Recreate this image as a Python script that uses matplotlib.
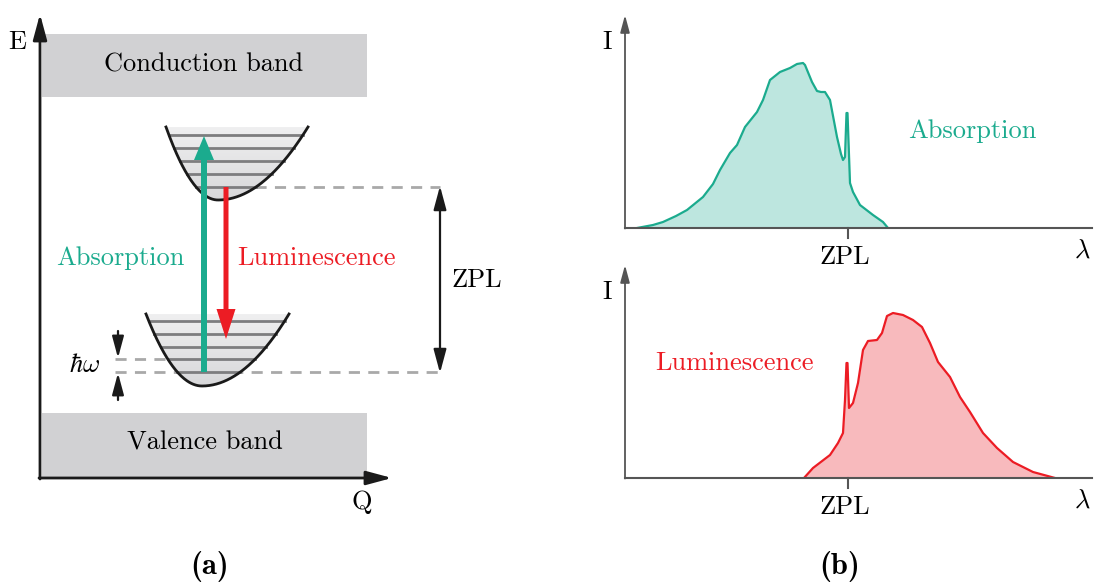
import numpy as np
import matplotlib.pyplot as plt
from matplotlib.patches import Rectangle, Polygon, ArrowStyle
from matplotlib.colors import LinearSegmentedColormap

plt.rcParams['mathtext.fontset'] = 'cm'

# spectra, wavelength relative to ZPL (arb. units), intensity (arb. units)
abs_lam = [-2.11, -1.95, -1.85, -1.72, -1.61, -1.45, -1.35, -1.28, -1.18, -1.11, -1.03,
           -0.91, -0.85, -0.78, -0.68, -0.58, -0.51, -0.45, -0.43, -0.36, -0.31, -0.27,
           -0.23, -0.18, -0.11, -0.07, -0.05, -0.03, -0.015, -0.005, 0.02, 0.05, 0.12,
           0.25, 0.35, 0.40]
abs_int = [0.0, 0.03, 0.06, 0.12, 0.18, 0.31, 0.44, 0.58, 0.75, 0.83, 1.01,
           1.16, 1.28, 1.48, 1.56, 1.60, 1.64, 1.65, 1.63, 1.46, 1.37, 1.36,
           1.36, 1.28, 0.91, 0.74, 0.68, 0.71, 1.15, 1.15, 0.45, 0.36, 0.23,
           0.13, 0.06, 0.0]

lum_lam = [-0.44, -0.35, -0.18, -0.10, -0.05, -0.03, -0.015, -0.005, 0.01, 0.05, 0.10,
           0.15, 0.20, 0.29, 0.34, 0.39, 0.45, 0.55, 0.65, 0.74, 0.82, 0.90, 1.02,
           1.12, 1.22, 1.35, 1.49, 1.65, 1.85, 2.07]
lum_int = [0.0, 0.10, 0.23, 0.35, 0.45, 0.78, 1.15, 1.15, 0.70, 0.75, 0.95,
           1.28, 1.37, 1.38, 1.45, 1.62, 1.65, 1.63, 1.58, 1.51, 1.35, 1.16, 1.01,
           0.81, 0.66, 0.45, 0.30, 0.16, 0.06, 0.0]

TEAL = '#1bab8e'
RED = '#ec1c24'
BAND = '#d1d1d3'
GRAY = '#a9a9a9'

W, H = 1096, 583
fig = plt.figure(figsize=(W / 100, H / 100), dpi=100)
ax = fig.add_axes([0, 0, 1, 1])
ax.set_xlim(0, W)
ax.set_ylim(H, 0)
ax.axis('off')

rm = dict(family='cmr10', fontsize=19)
stealth = ArrowStyle('-|>', head_length=1.3, head_width=0.35)
stealth2 = ArrowStyle('<|-|>', head_length=1.3, head_width=0.35)

# ---- panel (a) ----
ax.annotate('', xy=(40, 14), xytext=(40, 479),
            arrowprops=dict(arrowstyle=stealth, color='#1a1a1a', lw=2, mutation_scale=12, shrinkA=0, shrinkB=0))
ax.annotate('', xy=(392, 478), xytext=(39, 478),
            arrowprops=dict(arrowstyle=stealth, color='#1a1a1a', lw=2, mutation_scale=12, shrinkA=0, shrinkB=0))
ax.text(17, 42, 'E', ha='center', va='center', **rm)
ax.text(362, 502, 'Q', ha='center', va='center', **rm)

ax.add_patch(Rectangle((42, 34), 325, 63, color=BAND, lw=0))
ax.add_patch(Rectangle((42, 413), 325, 64, color=BAND, lw=0))
ax.text(204, 65, 'Conduction band', ha='center', va='center', **rm)
ax.text(205, 443, 'Valence band', ha='center', va='center', **rm)

# dashed guide lines
dash = dict(color=GRAY, lw=2, ls=(0, (4, 3)), zorder=1)
ax.plot([255, 440], [187, 187], **dash)
ax.plot([115, 440], [372, 372], **dash)
ax.plot([115, 170], [359, 359], **dash)

grad_cmap = LinearSegmentedColormap.from_list('g', ['#efeff0', '#d8d8da'])


def well(xl, xr, xv, yv, ytop, levels):
    xs = np.linspace(xl, xr, 200)
    span = np.where(xs < xv, xv - xl, xr - xv)
    ys = yv - (yv - ytop) * ((xs - xv) / span) ** 2
    poly = Polygon(np.column_stack([xs, ys]), closed=True, fc='none', ec='none')
    ax.add_patch(poly)
    img = ax.imshow(np.linspace(0, 1, 50).reshape(-1, 1), cmap=grad_cmap, aspect='auto',
                    extent=(xl, xr, yv, ytop), zorder=2)
    img.set_clip_path(poly)
    for y in levels:
        t = np.sqrt((yv - y) / (yv - ytop))
        ax.plot([xv - t * (xv - xl), xv + t * (xr - xv)], [y, y], color='#7d7d7f', lw=2, zorder=3)
    ax.plot(xs, ys, color='#1a1a1a', lw=2, zorder=4)


well(166, 308, 218, 200, 127, [135, 148, 161, 174, 187])
well(146, 289, 202, 386, 314, [321, 334, 347, 359, 372])
ax.set_xlim(0, W)
ax.set_ylim(H, 0)

ax.arrow(204, 372, 0, -236, width=6, head_width=20, head_length=24,
         length_includes_head=True, color=TEAL, lw=0, zorder=5)
ax.arrow(226, 187, 0, 152, width=5, head_width=19, head_length=30,
         length_includes_head=True, color=RED, lw=0, zorder=5)
ax.text(120, 258, 'Absorption', ha='center', va='center', color=TEAL, **rm)
ax.text(316, 258, 'Luminescence', ha='center', va='center', color=RED, **rm)

ax.annotate('', xy=(440, 186), xytext=(440, 373),
            arrowprops=dict(arrowstyle=stealth2, color='#1a1a1a', lw=1.6, mutation_scale=11, shrinkA=0, shrinkB=0))
ax.text(477, 280, 'ZPL', ha='center', va='center', **rm)

ax.annotate('', xy=(118, 358), xytext=(118, 331),
            arrowprops=dict(arrowstyle=stealth, color='#1a1a1a', lw=1.6, mutation_scale=10, shrinkA=0, shrinkB=0))
ax.annotate('', xy=(118, 373), xytext=(118, 400),
            arrowprops=dict(arrowstyle=stealth, color='#1a1a1a', lw=1.6, mutation_scale=10, shrinkA=0, shrinkB=0))
ax.text(85, 365, r'$\hbar\omega$', ha='center', va='center', fontsize=19)

ax.text(210, 567, '(a)', ha='center', va='center', family='cmb10', fontsize=22)
ax.text(840, 567, '(b)', ha='center', va='center', family='cmb10', fontsize=22)

# ---- panel (b) ----
LAM_MIN, LAM_MAX, I_MAX = -2.23, 2.44, 2.13


def spectrum(y_base, lam, inten, color, fill, label, label_xy):
    sax = fig.add_axes([625 / W, (H - y_base) / H, (1092 - 625) / W, 213 / H])
    sax.set_xlim(LAM_MIN, LAM_MAX)
    sax.set_ylim(0, I_MAX)
    sax.axis('off')
    sax.fill_between(lam, inten, 0, color=fill, lw=0)
    sax.plot(lam, inten, color=color, lw=1.6)
    axc = '#555555'
    sax.plot([LAM_MIN, LAM_MAX], [0, 0], color=axc, lw=1.5, clip_on=False, zorder=5)
    sax.plot([0, 0], [0, -0.10], color=axc, lw=1.5, clip_on=False)
    sax.annotate('', xy=(LAM_MIN, I_MAX), xytext=(LAM_MIN, -0.005),
                 arrowprops=dict(arrowstyle=stealth, color=axc, lw=1.3, mutation_scale=8, shrinkA=0, shrinkB=0),
                 annotation_clip=False)
    ax.text(845, y_base + 29, 'ZPL', ha='center', va='center', **rm)
    ax.text(1082, y_base + 23, r'$\lambda$', ha='center', va='center', fontsize=19)
    ax.text(607, y_base - 186, 'I', ha='center', va='center', **rm)
    ax.text(label_xy[0], label_xy[1], label, ha='center', va='center', color=color, **rm)


spectrum(228, abs_lam, abs_int, TEAL, '#bde6df', 'Absorption', (972, 131))
spectrum(478, lum_lam, lum_int, RED, '#f8babd', 'Luminescence', (734, 363))

fig.savefig('out.png', dpi=100)
